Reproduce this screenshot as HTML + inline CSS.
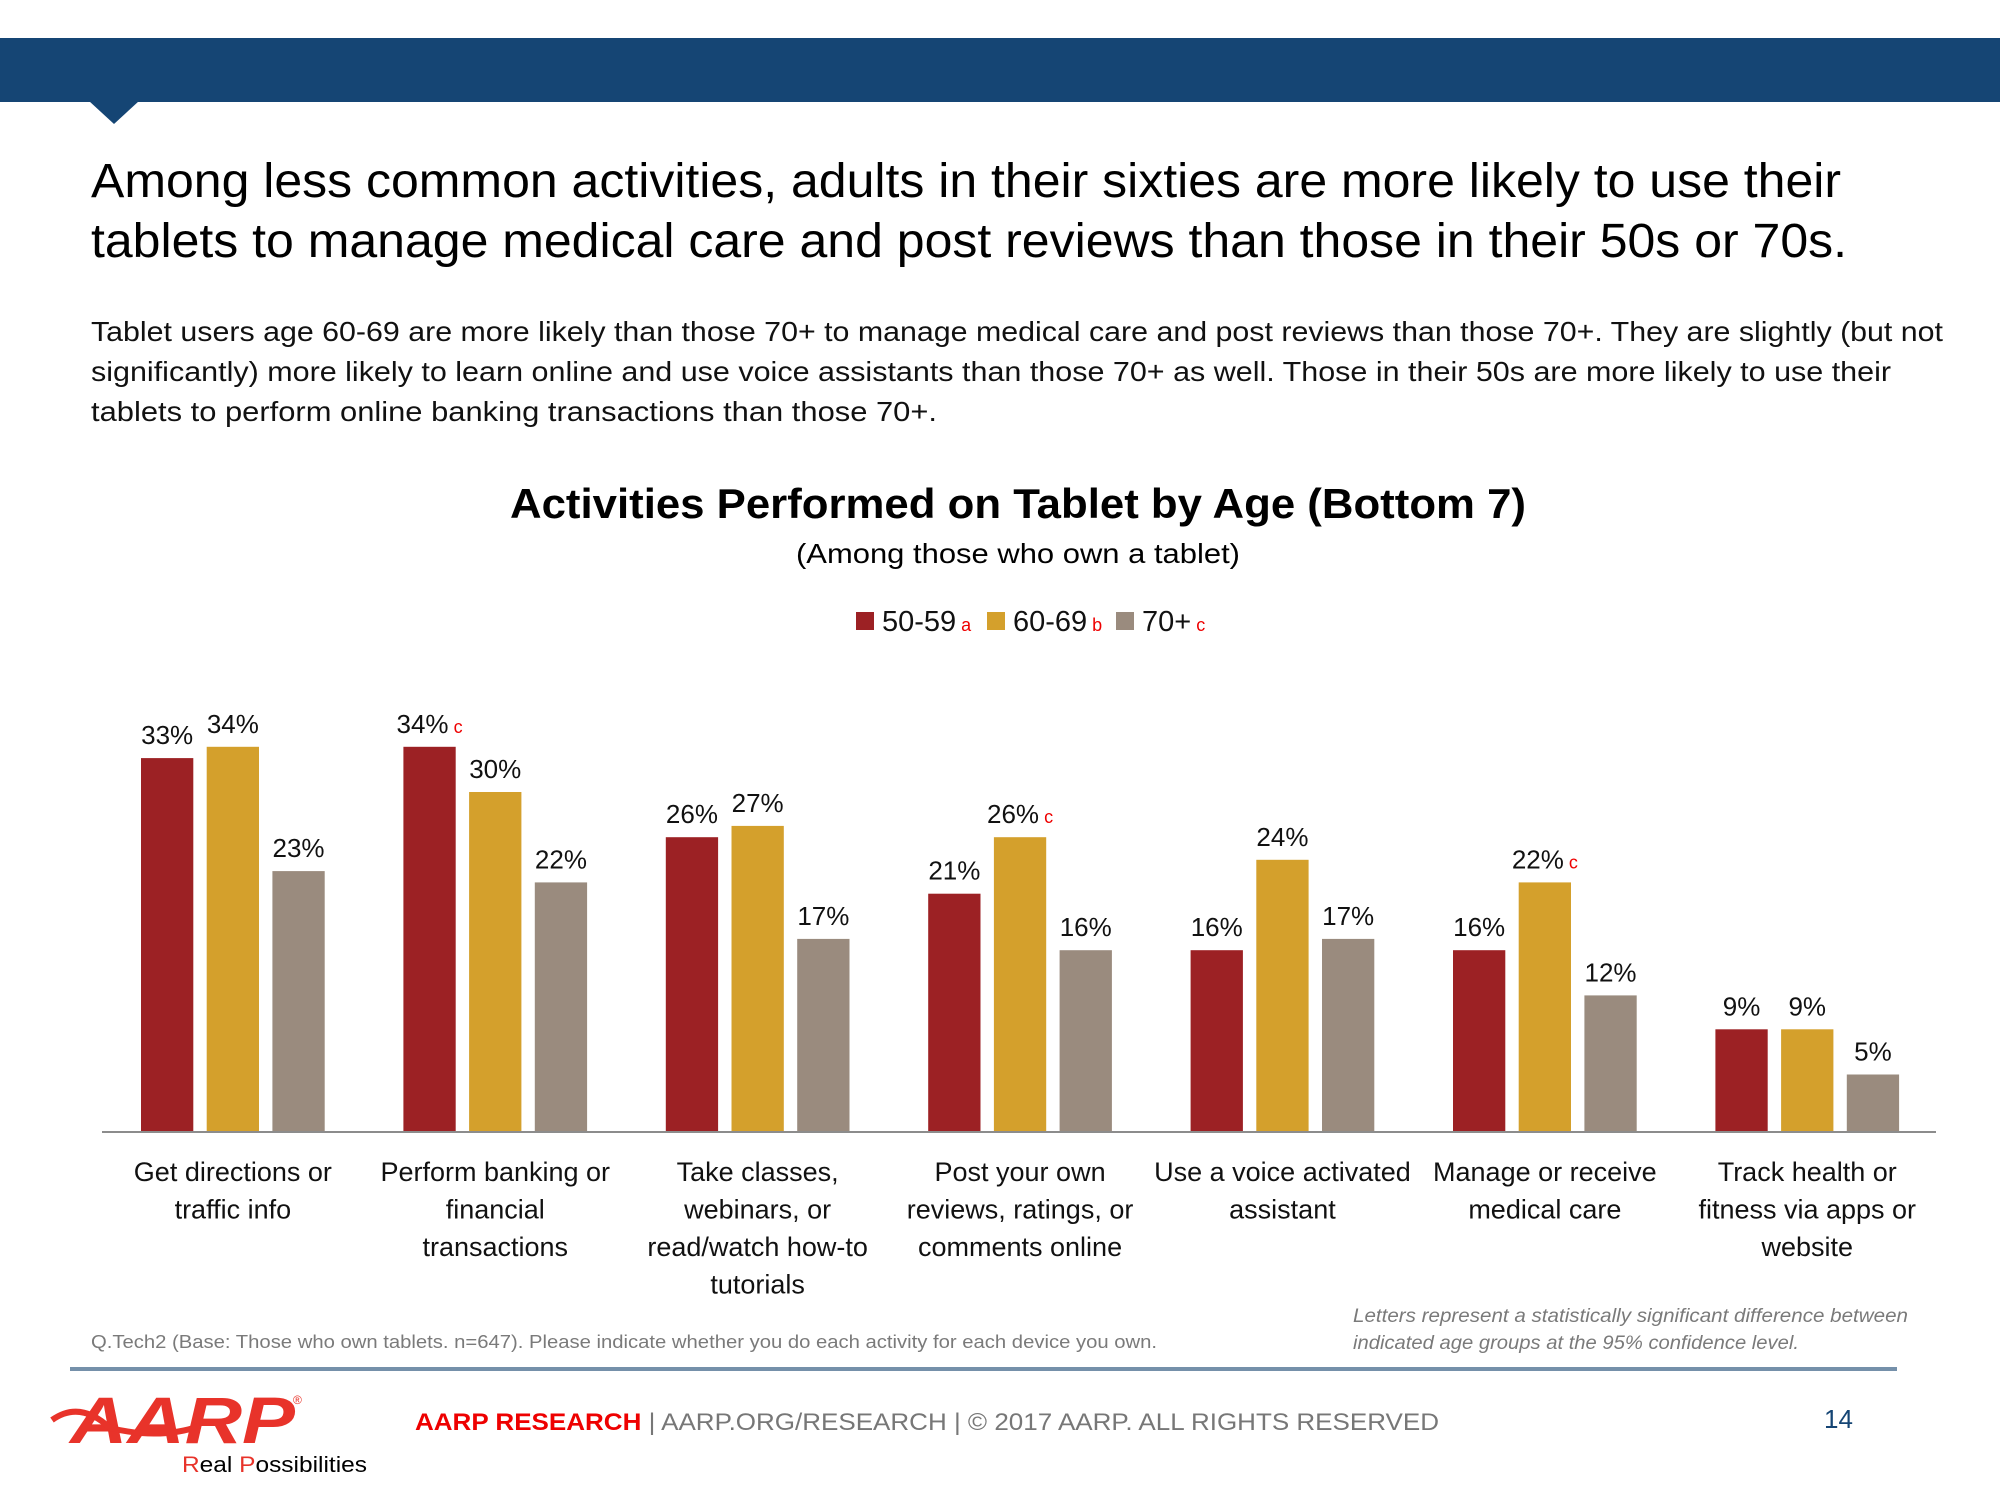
<!DOCTYPE html>
<html><head><meta charset="utf-8"><style>
html,body{margin:0;padding:0;background:#fff;}
svg{display:block;font-family:"Liberation Sans",sans-serif;}
</style></head><body>
<svg id="s" width="2000" height="1500" viewBox="0 0 2000 1500" xmlns="http://www.w3.org/2000/svg">
<rect x="0" y="38" width="2000" height="64" fill="#154574"/>
<polygon points="89,101 139,101 114,124" fill="#154574"/>
<g font-size="48" fill="#000">
<text x="91" y="197" textLength="1750" lengthAdjust="spacingAndGlyphs">Among less common activities, adults in their sixties are more likely to use their</text>
<text x="91" y="257" textLength="1756" lengthAdjust="spacingAndGlyphs">tablets to manage medical care and post reviews than those in their 50s or 70s.</text>
</g>
<g font-size="28" fill="#111">
<text x="91" y="341" textLength="1852" lengthAdjust="spacingAndGlyphs">Tablet users age 60-69 are more likely than those 70+ to manage medical care and post reviews than those 70+. They are slightly (but not</text>
<text x="91" y="381" textLength="1800" lengthAdjust="spacingAndGlyphs">significantly) more likely to learn online and use voice assistants than those 70+ as well. Those in their 50s are more likely to use their</text>
<text x="91" y="421" textLength="846" lengthAdjust="spacingAndGlyphs">tablets to perform online banking transactions than those 70+.</text>
</g>
<text x="1018" y="518" font-size="42" font-weight="bold" text-anchor="middle" textLength="1016" lengthAdjust="spacingAndGlyphs">Activities Performed on Tablet by Age (Bottom 7)</text>
<text x="1018" y="563" font-size="28" text-anchor="middle" textLength="444" lengthAdjust="spacingAndGlyphs">(Among those who own a tablet)</text>
<g id="legend"></g>
<g id="chart"></g>
<line x1="102" y1="1132" x2="1936" y2="1132" stroke="#8c8c8c" stroke-width="2"/>
<text x="91" y="1348" font-size="18" fill="#7a7a7a" textLength="1066" lengthAdjust="spacingAndGlyphs">Q.Tech2 (Base: Those who own tablets. n=647). Please indicate whether you do each activity for each device you own.</text>
<g font-size="19" fill="#7a7a7a" font-style="italic">
<text x="1353" y="1322" textLength="555" lengthAdjust="spacingAndGlyphs">Letters represent a statistically significant difference between</text>
<text x="1353" y="1349" textLength="446" lengthAdjust="spacingAndGlyphs">indicated age groups at the 95% confidence level.</text>
</g>
<rect x="70" y="1367" width="1827" height="4" fill="#7590aa"/>
<g>
<text x="70" y="1443" font-size="66" font-weight="bold" font-style="italic" fill="#e8332a" textLength="225" lengthAdjust="spacingAndGlyphs">AARP</text>
<path d="M52,1420 Q80,1400 110,1428 Q160,1440 200,1426" stroke="#e8332a" stroke-width="6" fill="none"/>
<text x="293" y="1404" font-size="12" fill="#e8332a">®</text>
<text x="182" y="1472" font-size="22" fill="#000" textLength="185" lengthAdjust="spacingAndGlyphs"><tspan fill="#e8332a">R</tspan>eal <tspan fill="#e8332a">P</tspan>ossibilities</text>
</g>
<text x="415" y="1430" font-size="24" fill="#777" textLength="1024" lengthAdjust="spacingAndGlyphs"><tspan fill="#e00" font-weight="bold">AARP RESEARCH</tspan>  |  AARP.ORG/RESEARCH  |  © 2017 AARP. ALL RIGHTS RESERVED</text>
<text x="1824" y="1428" font-size="26" fill="#154574">14</text>
<script>
const categories=[["Get directions or","traffic info"],["Perform banking or","financial","transactions"],["Take classes,","webinars, or","read/watch how-to","tutorials"],["Post your own","reviews, ratings, or","comments online"],["Use a voice activated","assistant"],["Manage or receive","medical care"],["Track health or","fitness via apps or","website"]];
const seriesNames=["50-59","60-69","70+"];
const seriesLetters=["a","b","c"];
const v5059=[33,34,26,21,16,16,9];
const v6069=[34,30,27,26,24,22,9];
const v70=[23,22,17,16,17,12,5];
const sig5059=["","c","","","","",""];
const sig6069=["","","","c","","c",""];
const sig70=["","","","","","",""];
const colors=["#9c2124","#d4a02c","#9a8b7e"];
const NS="http://www.w3.org/2000/svg";
const chart=document.getElementById('chart');
const base=1131, pxPer=11.3, x0=141, groupStep=262.4, barStep=65.7, bw=52.3;
const yScale=v=>base-v*pxPer;
const xScale=(g,s)=>x0+g*groupStep+s*barStep;
const series=[v5059,v6069,v70], sigs=[sig5059,sig6069,sig70];
function mk(tag,attrs){const e=document.createElementNS(NS,tag);for(const k in attrs)e.setAttribute(k,attrs[k]);return e;}
series.forEach((vals,s)=>{vals.forEach((v,g)=>{
  const r=mk('rect',{x:xScale(g,s),y:yScale(v),width:bw,height:base-yScale(v),fill:colors[s]});
  
  
  chart.appendChild(r);
  const t=mk('text',{x:xScale(g,s)+bw/2,y:yScale(v)-14,'font-size':26,'text-anchor':'middle',fill:'#111'});
  
  
  t.textContent=v+'%';
  if(sigs[s][g]){const ts=mk('tspan',{fill:'#e00','font-size':18});ts.textContent=' '+sigs[s][g];t.appendChild(ts);}
  chart.appendChild(t);
});});
categories.forEach((lines,g)=>{
  const cx=xScale(g,1)+bw/2;
  lines.forEach((ln,i)=>{
    const t=mk('text',{x:cx,y:1181+i*37.5,'font-size':27,'text-anchor':'middle',fill:'#111'});
    
    
    t.textContent=ln;chart.appendChild(t);
  });
});
const legend=document.getElementById('legend');
const lx=[856,987,1116];
seriesNames.forEach((n,i)=>{
  const r=mk('rect',{x:lx[i],y:612,width:18,height:18,fill:colors[i]});
  
  
  legend.appendChild(r);
  const t=mk('text',{x:lx[i]+26,y:631,'font-size':29,fill:'#111'});
  
  
  t.textContent=n;
  const ts=mk('tspan',{fill:'#e00','font-size':18});ts.textContent=' '+seriesLetters[i];t.appendChild(ts);
  legend.appendChild(t);
});
</script>
</svg>
</body></html>
